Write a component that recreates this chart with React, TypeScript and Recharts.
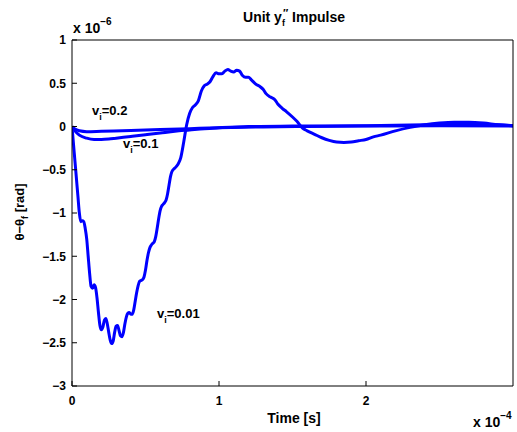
import React from 'react';
import { LineChart, Line, XAxis, YAxis } from 'recharts';

// time in units of 1e-4 s, angle error in units of 1e-6 rad
const timeLow = [
  0, 0.01, 0.02, 0.03, 0.04, 0.05, 0.06, 0.07, 0.08, 0.09, 0.1, 0.11, 0.12, 0.13, 0.14, 0.15,
  0.16, 0.17, 0.18, 0.19, 0.2, 0.21, 0.22, 0.23, 0.24, 0.25, 0.26, 0.27, 0.28, 0.29, 0.3, 0.31,
  0.32, 0.33, 0.34, 0.35, 0.36, 0.37, 0.38, 0.39, 0.4, 0.41, 0.42, 0.43, 0.44, 0.45, 0.46, 0.47,
  0.48, 0.49, 0.5, 0.51, 0.52, 0.53, 0.54, 0.55, 0.56, 0.57, 0.58, 0.59, 0.6, 0.61, 0.62, 0.63,
  0.64, 0.65, 0.66, 0.67, 0.68, 0.7, 0.72, 0.74, 0.76, 0.78, 0.8, 0.82, 0.84, 0.86, 0.88, 0.9,
  0.92, 0.94, 0.96, 0.98, 1.0, 1.02, 1.04, 1.06, 1.08, 1.1, 1.12, 1.14, 1.16, 1.18, 1.2, 1.22,
  1.25, 1.28, 1.3, 1.32, 1.35, 1.38, 1.4, 1.43, 1.46, 1.5, 1.53, 1.57, 1.6, 1.65, 1.7, 1.75,
  1.8, 1.85, 1.9, 1.95, 2.0, 2.05, 2.1, 2.2, 2.3, 2.4, 2.5, 2.6, 2.7, 2.8, 2.9, 3.0,
];
const thetaLow = [
  0, -0.2, -0.4, -0.6, -0.8, -1.0, -1.1, -1.09, -1.1, -1.18, -1.3, -1.5, -1.7, -1.85, -1.87, -1.83,
  -1.86, -1.98, -2.15, -2.3, -2.35, -2.32, -2.24, -2.22, -2.28, -2.38, -2.47, -2.51, -2.48, -2.38, -2.31, -2.3,
  -2.36, -2.42, -2.43, -2.38, -2.28, -2.2, -2.16, -2.15, -2.17, -2.17, -2.12, -2.02, -1.92, -1.84, -1.79, -1.78,
  -1.77, -1.74, -1.66, -1.55, -1.46, -1.4, -1.37, -1.35, -1.33, -1.27, -1.17, -1.06, -0.97, -0.92, -0.9, -0.88,
  -0.85, -0.78, -0.68, -0.58, -0.52, -0.48, -0.44, -0.36, -0.18, 0.02, 0.15, 0.22, 0.25, 0.3, 0.41, 0.47,
  0.49, 0.52, 0.58, 0.62, 0.61, 0.61, 0.64, 0.66, 0.64, 0.63, 0.65, 0.64, 0.59, 0.57, 0.57, 0.54,
  0.49, 0.46, 0.43, 0.38, 0.34, 0.31, 0.26, 0.21, 0.17, 0.11, 0.06, -0.02, -0.05, -0.09, -0.13, -0.16,
  -0.18, -0.185, -0.18, -0.165, -0.15, -0.12, -0.1, -0.05, -0.01, 0.02, 0.04, 0.05, 0.05, 0.04, 0.02, 0.01,
];

const timeMid = [0, 0.02, 0.05, 0.1, 0.15, 0.2, 0.25, 0.3, 0.4, 0.5, 0.6, 0.7, 0.8, 0.9, 1.0, 1.2, 1.5, 2.0, 2.4, 2.7, 3.0];
const thetaMid = [0, -0.05, -0.1, -0.135, -0.15, -0.15, -0.145, -0.135, -0.115, -0.095, -0.075, -0.055, -0.04, -0.025, -0.015, 0, 0.005, 0.01, 0.02, 0.03, 0.01];

const timeHigh = [0, 0.02, 0.05, 0.1, 0.2, 0.4, 0.6, 0.8, 1.0, 1.3, 1.6, 2.0, 2.5, 3.0];
const thetaHigh = [0, -0.03, -0.05, -0.06, -0.055, -0.045, -0.035, -0.025, -0.015, -0.005, 0, 0.005, 0.01, 0.005];

const xTicks = [0, 1, 2];
const yTicks = [-3, -2.5, -2, -1.5, -1, -0.5, 0, 0.5, 1];

const toRows = (t: number[], v: number[]) => t.map((x, i) => ({ t: x, v: v[i] }));

const FONT = '"Liberation Sans", Arial, Helvetica, sans-serif';
const BLUE = '#0000ff';

const fmtY = (v: number) => (v === 0 ? '0' : String(v).replace('-', '\u2212'));

const App: React.FC = () => {
  const rowsLow = toRows(timeLow, thetaLow);
  const rowsMid = toRows(timeMid, thetaMid);
  const rowsHigh = toRows(timeHigh, thetaHigh);
  const tickStyle = { fill: '#000', fontSize: 12, fontWeight: 'bold' as const, fontFamily: FONT };

  return (
    <div style={{ position: 'relative', width: 517, height: 432, background: '#fff' }}>
      <style>{'body{margin:0}'}</style>
      <LineChart width={517} height={432} margin={{ top: 0, right: 0, bottom: 0, left: 0 }}>
        <XAxis
          dataKey="t"
          type="number"
          domain={[0, 3]}
          ticks={xTicks}
          allowDataOverflow
          height={46}
          tickSize={-5}
          tickMargin={15}
          stroke="#000"
          tick={tickStyle}
        />
        <XAxis
          xAxisId="top"
          orientation="top"
          type="number"
          domain={[0, 3]}
          ticks={xTicks}
          height={40}
          tickSize={-5}
          tickFormatter={() => ''}
          stroke="#000"
        />
        <YAxis
          type="number"
          domain={[-3, 1]}
          ticks={yTicks}
          width={72}
          tickSize={-5}
          tickMargin={11}
          tickFormatter={fmtY}
          stroke="#000"
          tick={tickStyle}
        />
        <YAxis
          yAxisId="right"
          orientation="right"
          type="number"
          domain={[-3, 1]}
          ticks={yTicks}
          width={4}
          tickSize={-5}
          tickFormatter={() => ''}
          stroke="#000"
        />
        <Line data={rowsHigh} dataKey="v" type="monotone" stroke={BLUE} strokeWidth={3} dot={false} isAnimationActive={false} />
        <Line data={rowsMid} dataKey="v" type="monotone" stroke={BLUE} strokeWidth={3} dot={false} isAnimationActive={false} />
        <Line data={rowsLow} dataKey="v" type="monotone" stroke={BLUE} strokeWidth={3} dot={false} isAnimationActive={false} />
      </LineChart>

      <svg
        width={517}
        height={432}
        style={{ position: 'absolute', left: 0, top: 0, pointerEvents: 'none' }}
        fontFamily={FONT}
        fontWeight="bold"
        fill="#000"
      >
        <text x={294} y={22} fontSize={14} textAnchor="middle">
          Unit y<tspan dy={4} fontSize={9}>f</tspan>
          <tspan dx={-2} dy={-9} fontSize={11}>{'\u2033'}</tspan>
          <tspan dy={5}> Impulse</tspan>
        </text>

        <text x={73} y={33} fontSize={14}>
          x 10<tspan dy={-8} fontSize={10}>{'\u22126'}</tspan>
        </text>
        <text x={473} y={427} fontSize={14}>
          x 10<tspan dy={-8} fontSize={10}>{'\u22124'}</tspan>
        </text>

        <text x={294} y={423} fontSize={14} textAnchor="middle">Time [s]</text>

        <text x={24} y={212} fontSize={13} textAnchor="middle" transform="rotate(-90 24 212)">
          {'\u03b8\u2212\u03b8'}<tspan dy={4} fontSize={9}>f</tspan>
          <tspan dy={-4}> [rad]</tspan>
        </text>

        <text x={92} y={115} fontSize={13}>
          v<tspan dy={5} fontSize={9}>i</tspan><tspan dy={-5}>=0.2</tspan>
        </text>
        <text x={123} y={148} fontSize={13}>
          v<tspan dy={5} fontSize={9}>i</tspan><tspan dy={-5}>=0.1</tspan>
        </text>
        <text x={157} y={318} fontSize={13}>
          v<tspan dy={5} fontSize={9}>i</tspan><tspan dy={-5}>=0.01</tspan>
        </text>
      </svg>
    </div>
  );
};

export default App;
